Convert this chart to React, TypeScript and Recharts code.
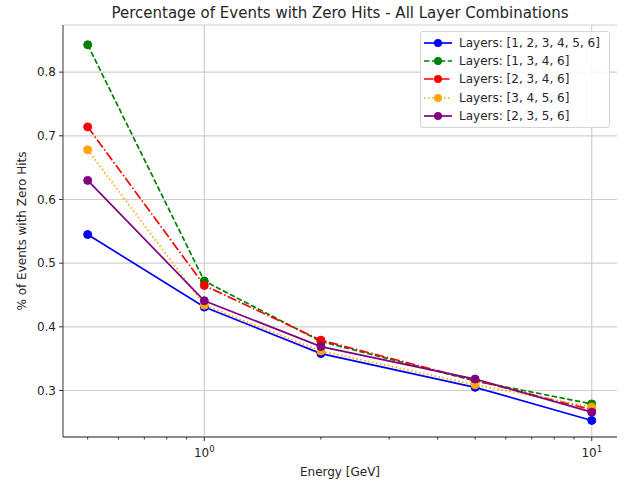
import React from 'react';
import { LineChart, Line, XAxis, YAxis, CartesianGrid, ReferenceLine } from 'recharts';

const ENERGIES = [0.5, 1, 2, 5, 10];
const LAYERS_123456 = [0.545, 0.431, 0.358, 0.305, 0.253];
const LAYERS_1346 = [0.843, 0.472, 0.377, 0.315, 0.279];
const LAYERS_2346 = [0.714, 0.465, 0.379, 0.316, 0.270];
const LAYERS_3456 = [0.678, 0.434, 0.362, 0.309, 0.274];
const LAYERS_2356 = [0.630, 0.441, 0.369, 0.318, 0.266];

const SERIES_LABELS = [
  'Layers: [1, 2, 3, 4, 5, 6]',
  'Layers: [1, 3, 4, 6]',
  'Layers: [2, 3, 4, 6]',
  'Layers: [3, 4, 5, 6]',
  'Layers: [2, 3, 5, 6]',
];
const SERIES_VALUES = [LAYERS_123456, LAYERS_1346, LAYERS_2346, LAYERS_3456, LAYERS_2356];
const SERIES_COLORS = ['#0000ff', '#008000', '#ff0000', '#ffa500', '#800080'];
const SERIES_DASH = ['', '5.5 2.4', '9.6 2.4 1.5 2.4', '1.5 2.5', ''];

const X_TICKS = [0.5, 0.6, 0.7, 0.8, 0.9, 1, 2, 3, 4, 5, 6, 7, 8, 9, 10];
const X_MAJOR = [1, 10];
const Y_TICKS = [0.3, 0.4, 0.5, 0.6, 0.7, 0.8];

const data = ENERGIES.map((energy, i) => {
  const row: Record<string, number> = { energy };
  SERIES_VALUES.forEach((vals, k) => { row[`s${k}`] = vals[i]; });
  return row;
});

const FONT = '"DejaVu Sans", sans-serif';
const TEXT = '#262626';
const AXIS = '#333333';
const GRID = '#cfcfcf';

function XTick(props: any) {
  const { x, y, payload } = props;
  const major = X_MAJOR.includes(payload.value);
  const exp = Math.round(Math.log10(payload.value));
  return (
    <g>
      <line x1={x} x2={x} y1={y} y2={y + (major ? 4 : 2.5)} stroke={AXIS} strokeWidth={1} />
      {major && (
        <text x={x} y={y + 20} textAnchor="middle" fontSize={12} fill={TEXT} fontFamily={FONT}>
          10<tspan dy={-5} fontSize={8.5}>{exp}</tspan>
        </text>
      )}
    </g>
  );
}

export default function App() {
  return (
    <div style={{ position: 'absolute', left: 0, top: 0, width: 628, height: 483, background: '#fff', fontFamily: FONT }}>
      <div style={{ position: 'absolute', left: 63, top: 4, width: 554, textAlign: 'center', fontSize: 15, lineHeight: '18px', color: TEXT }}>
        Percentage of Events with Zero Hits - All Layer Combinations
      </div>
      <div style={{ position: 'absolute', left: 22, top: 231, transform: 'translate(-50%, -50%) rotate(-90deg)', whiteSpace: 'nowrap', fontSize: 12, color: TEXT }}>
        % of Events with Zero Hits
      </div>
      <div style={{ position: 'absolute', left: 340, top: 472, transform: 'translate(-50%, -50%)', whiteSpace: 'nowrap', fontSize: 12, color: TEXT }}>
        Energy [GeV]
      </div>
      <LineChart width={628} height={483} data={data} margin={{ top: 25, right: 11, bottom: 0, left: 0 }}>
        <CartesianGrid vertical={false} stroke={GRID} strokeWidth={1.2} />
        <ReferenceLine x={1} stroke={GRID} strokeWidth={1.2} />
        <ReferenceLine x={10} stroke={GRID} strokeWidth={1.2} />
        <XAxis
          dataKey="energy" type="number" scale="log" domain={[0.4318, 11.62]} allowDataOverflow
          ticks={X_TICKS} interval={0} tick={<XTick />} tickLine={false} tickSize={0} tickMargin={0}
          height={46} axisLine={{ stroke: AXIS }}
        />
        <XAxis xAxisId="top" orientation="top" type="number" domain={[0, 1]} height={0} tick={false} tickLine={false} axisLine={{ stroke: AXIS }} />
        <YAxis
          type="number" domain={[0.227, 0.874]} allowDataOverflow ticks={Y_TICKS} interval={0} width={63}
          tick={{ fontSize: 12, fill: TEXT, fontFamily: FONT }} tickSize={4} tickMargin={3}
          tickLine={{ stroke: AXIS }} axisLine={{ stroke: AXIS }} tickFormatter={(v) => v.toFixed(1)}
        />
        <YAxis yAxisId="right" orientation="right" type="number" domain={[0, 1]} width={0} tick={false} tickLine={false} axisLine={{ stroke: AXIS }} />
        {SERIES_LABELS.map((label, k) => (
          <Line
            key={label} name={label} dataKey={`s${k}`} type="linear" stroke={SERIES_COLORS[k]} strokeWidth={1.7}
            strokeDasharray={SERIES_DASH[k] || undefined}
            dot={{ r: 4, fill: SERIES_COLORS[k], stroke: SERIES_COLORS[k], strokeWidth: 1, strokeDasharray: '' }}
            isAnimationActive={false}
          />
        ))}
      </LineChart>
      <div style={{ position: 'absolute', left: 420, top: 31, width: 190, padding: '2px 0', border: '1px solid #d6d6d6', borderRadius: 3, background: 'rgba(255,255,255,0.85)', boxSizing: 'border-box' }}>
        {SERIES_LABELS.map((label, k) => (
          <div key={label} style={{ display: 'flex', alignItems: 'center', height: 18.2, fontSize: 12, color: TEXT }}>
            <svg width={38} height={18} style={{ flex: 'none' }}>
              <line x1={3} x2={31} y1={9} y2={9} stroke={SERIES_COLORS[k]} strokeWidth={1.7} strokeDasharray={SERIES_DASH[k] || undefined} />
              <circle cx={17} cy={9} r={4} fill={SERIES_COLORS[k]} />
            </svg>
            <span style={{ whiteSpace: 'nowrap' }}>{label}</span>
          </div>
        ))}
      </div>
    </div>
  );
}
